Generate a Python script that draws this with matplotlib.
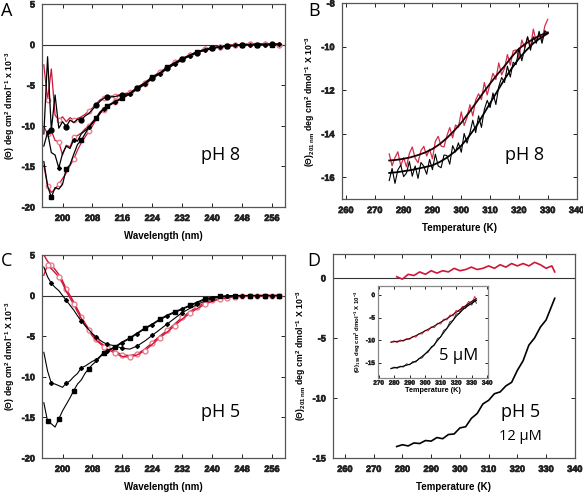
import numpy as np
import matplotlib
matplotlib.use("Agg")
import matplotlib.pyplot as plt
import matplotlib.patheffects as pe

plt.rcParams['font.family'] = ['Liberation Sans', 'DejaVu Sans']
plt.rcParams['font.weight'] = 'bold'
plt.rcParams['axes.labelweight'] = 'bold'
plt.rcParams['axes.unicode_minus'] = False
plt.rcParams['mathtext.fontset'] = 'custom'
plt.rcParams['mathtext.rm'] = 'Liberation Sans:bold'
plt.rcParams['mathtext.it'] = 'Liberation Sans:bold'
plt.rcParams['mathtext.bf'] = 'Liberation Sans:bold'
plt.rcParams['mathtext.default'] = 'bf'

RED = '#cf1538'
PINK = '#e8808f'

# ---- espectros (A y C): longitud de onda en nm
wl = [195, 196, 197, 198, 199, 200, 201, 202, 203, 204, 205, 206, 207, 208, 209, 210, 211, 212,
      214, 216, 218, 220, 222, 224, 226, 228, 230, 232, 234, 236, 238, 240, 242, 244, 246, 248,
      250, 252, 254, 256, 258]

# pH 8
a_black_circ = [-11.0, -1.5, -10.5, -6.2, -10.3, -9.5, -10.1, -9.3, -9.6, -9.2, -9.3, -8.8, -8.5, -8.0,
                -7.5, -7.0, -6.6, -6.5, -6.4, -6.2, -6.0, -5.4, -4.8, -4.1, -3.5, -2.9, -2.3, -1.8,
                -1.3, -1.0, -0.7, -0.45, -0.3, -0.2, -0.1, -0.05, 0.0, 0.0, 0.05, 0.05, 0.05]
a_red_circ = [-2.5, -6.8, -3.0, -8.7, -9.3, -8.9, -9.5, -9.0, -9.3, -9.1, -8.9, -8.6, -8.2, -7.8,
              -7.3, -6.8, -6.6, -6.4, -6.3, -6.1, -5.9, -5.3, -4.7, -4.0, -3.4, -2.8, -2.2, -1.7,
              -1.3, -0.9, -0.6, -0.4, -0.25, -0.15, -0.05, 0.0, 0.05, 0.1, 0.05, 0.05, 0.0]
a_black_dia = [-12.5, -10.8, -13.3, -13.6, -15.2, -13.4, -12.5, -12.8, -11.7, -11.9, -11.0, -10.6,
               -10.2, -9.6, -9.1, -8.5, -7.9, -7.6, -7.1, -6.6, -6.1, -5.5, -4.9, -4.2, -3.6, -3.0,
               -2.4, -1.9, -1.4, -1.0, -0.7, -0.5, -0.3, -0.2, -0.1, -0.05, 0.0, 0.0, 0.0, 0.05, 0.05]
a_red_mid = [-10.1, -11.0, -10.6, -11.8, -12.0, -13.6, -12.4, -12.6, -11.4, -11.2, -10.9, -10.4,
             -10.0, -9.5, -9.0, -8.4, -7.9, -7.5, -7.0, -6.5, -6.0, -5.4, -4.8, -4.1, -3.5, -2.9,
             -2.3, -1.8, -1.3, -0.9, -0.6, -0.4, -0.25, -0.1, -0.05, 0.0, 0.05, 0.05, 0.05, 0.0, 0.0]
a_black_sq = [-14.4, -17.4, -18.8, -17.6, -17.8, -17.2, -15.3, -14.8, -13.5, -12.3, -11.8, -11.0,
              -10.2, -9.7, -9.0, -8.3, -7.9, -7.6, -7.0, -6.6, -6.0, -5.3, -4.7, -4.0, -3.5, -2.8,
              -2.2, -1.8, -1.3, -0.9, -0.6, -0.4, -0.3, -0.15, -0.1, -0.05, 0.0, 0.0, 0.0, 0.0, 0.0]
a_red_low = [-14.9, -17.4, -18.2, -17.8, -17.2, -16.5, -15.8, -14.9, -14.1, -13.0, -12.1, -11.4,
             -10.7, -10.0, -9.2, -8.5, -8.0, -7.6, -7.1, -6.6, -6.0, -5.3, -4.7, -4.0, -3.4, -2.8,
             -2.2, -1.7, -1.3, -0.9, -0.6, -0.4, -0.25, -0.1, -0.05, 0.0, 0.05, 0.05, 0.05, 0.0, 0.0]

# pH 5
c_black_sq = [-13.2, -15.5, -15.8, -16.2, -15.2, -14.2, -13.4, -12.6, -11.7, -10.9, -10.4, -9.6,
              -9.0, -8.5, -8.1, -7.6, -7.1, -6.8, -6.3, -5.7, -5.2, -4.6, -4.0, -3.5, -2.9, -2.4,
              -2.0, -1.6, -1.2, -0.8, -0.4, -0.2, -0.1, -0.05, 0.0, 0.0, 0.0, 0.0, 0.0, 0.0, 0.0]
c_black_low = [-7.0, -9.3, -10.8, -10.9, -11.1, -11.3, -10.8, -10.5, -10.0, -9.6, -8.9, -8.7,
               -8.4, -8.1, -7.9, -7.5, -7.0, -6.8, -6.4, -5.8, -5.3, -4.7, -4.1, -3.6, -3.0, -2.5,
               -2.1, -1.7, -1.3, -0.9, -0.5, -0.3, -0.15, -0.05, 0.0, 0.0, 0.0, 0.0, 0.0, 0.0, 0.0]
c_black_up = [3.5, 2.3, 1.5, 1.0, 0.6, 0.0, -0.6, -1.2, -1.8, -2.5, -3.1, -3.7, -4.2, -4.7, -5.1,
              -5.5, -5.8, -6.0, -6.2, -6.5, -6.6, -6.2, -5.6, -4.9, -4.2, -3.5, -2.8, -2.1, -1.6,
              -1.1, -0.7, -0.4, -0.2, -0.1, -0.05, 0.0, 0.0, 0.0, 0.0, 0.0, 0.0]
c_red_1 = [5.0, 4.2, 3.8, 3.2, 2.6, 1.8, 0.8, 0.0, -0.8, -1.7, -2.6, -3.4, -4.1, -4.8, -5.3, -5.8,
           -6.1, -6.4, -6.9, -7.3, -7.4, -7.2, -6.6, -5.8, -5.0, -4.3, -3.5, -2.7, -2.0, -1.4,
           -0.9, -0.6, -0.4, -0.25, -0.15, -0.1, -0.05, 0.0, 0.0, 0.0, 0.0]
c_red_2 = [2.5, 3.8, 3.3, 2.8, 2.3, 1.5, 0.5, -0.3, -1.1, -2.0, -2.8, -3.6, -4.3, -5.0, -5.5, -5.9,
           -6.3, -6.6, -7.1, -7.5, -7.6, -7.3, -6.8, -6.0, -5.2, -4.5, -3.7, -2.9, -2.2, -1.6,
           -1.1, -0.7, -0.45, -0.3, -0.15, -0.1, -0.05, 0.0, 0.0, 0.0, 0.0]

# ---- B: desnaturalizacion termica pH 8 (201 nm)
tb = list(range(275, 331))
b_red = [-14.93, -15.47, -15.1, -14.83, -15.47, -15.1, -15.52, -14.9, -14.61, -15.12, -15.33,
         -14.78, -14.58, -15.02, -14.71, -15.15, -14.35, -14.12, -14.57, -14.61, -14.1, -13.72,
         -14.19, -13.6, -13.7, -13.0, -13.62, -13.25, -12.67, -13.18, -12.45, -12.17, -12.43,
         -11.65, -12.22, -11.7, -11.23, -11.51, -10.75, -11.3, -11.0, -10.37, -10.85, -10.2,
         -10.15, -10.5, -9.7, -10.05, -9.56, -10.03, -9.2, -9.78, -9.41, -9.7, -9.05, -8.75]
b_black = [-16.15, -15.59, -16.28, -15.66, -15.44, -15.97, -15.8, -15.28, -15.95, -15.48, -16.05,
           -15.32, -15.49, -15.86, -15.18, -15.65, -14.94, -15.48, -15.56, -14.98, -15.0, -15.4,
           -14.55, -14.84, -14.42, -14.85, -13.99, -14.43, -13.96, -13.38, -13.95, -13.18, -13.71,
           -12.89, -12.47, -12.8, -12.13, -12.66, -11.84, -11.42, -11.65, -10.9, -11.4, -10.72,
           -10.83, -10.1, -10.65, -10.1, -9.55, -10.17, -9.55, -9.85, -9.3, -9.85, -9.27, -9.4]
tb_fit = [275, 277.5, 280, 282.5, 285, 287.5, 290, 292.5, 295, 297.5, 300, 302.5, 305, 307.5, 310,
          312.5, 315, 317.5, 320, 322.5, 325, 327.5, 330]
b_red_fit = [-15.23, -15.2, -15.15, -15.08, -14.98, -14.86, -14.7, -14.48, -14.2, -13.87, -13.5,
             -13.06, -12.6, -12.14, -11.7, -11.28, -10.9, -10.47, -10.1, -9.85, -9.65, -9.48, -9.35]
b_black_fit = [-15.8, -15.77, -15.72, -15.67, -15.6, -15.53, -15.45, -15.3, -15.1, -14.85, -14.55,
               -14.15, -13.7, -13.15, -12.6, -12.05, -11.5, -11.0, -10.55, -10.18, -9.85, -9.6, -9.4]

# ---- D: pH 5, 12 uM
td = [278, 280, 282, 284, 286, 288, 290, 292, 294, 296, 298, 300, 302, 304, 306, 308, 310, 312,
      314, 316, 318, 320, 322, 324, 326, 328, 330, 332, 333]
d_red = [0.1, -0.1, 0.3, 0.2, 0.5, 0.3, 0.6, 0.4, 0.6, 0.5, 0.8, 0.6, 0.7, 0.9, 0.7, 0.8, 1.0, 0.8,
         1.1, 0.9, 1.2, 1.0, 1.2, 1.0, 1.3, 1.1, 0.8, 1.0, 0.5]
d_black = [-14.05, -13.9, -14.0, -13.75, -13.8, -13.55, -13.6, -13.3, -13.4, -13.05, -13.0, -12.5,
           -12.4, -11.7, -11.3, -10.5, -10.2, -9.65, -9.5, -9.0, -8.7, -7.7, -6.9, -5.6, -5.0,
           -4.1, -3.5, -2.3, -1.7]

# inset: 5 uM, 198 nm
d_in_red = [-10.4, -10.1, -10.5, -9.9, -10.2, -9.6, -9.8, -9.1, -9.3, -8.5, -8.6, -7.8, -7.9, -7.0,
            -7.2, -6.2, -6.4, -5.3, -5.5, -4.4, -4.6, -3.4, -3.7, -2.5, -2.6, -1.4, -1.8, -0.3, -1.2]
d_in_black = [-16.3, -15.9, -16.2, -15.7, -15.9, -15.2, -15.4, -14.7, -14.8, -14.0, -13.9, -13.0,
              -12.6, -11.4, -11.1, -9.6, -9.3, -7.8, -7.4, -5.9, -5.6, -4.2, -4.1, -3.0, -2.9, -1.9,
              -2.2, -1.0, -1.8]
td_fit = [278, 285, 290, 295, 300, 305, 310, 315, 320, 325, 330, 333]
d_in_red_fit = [-10.4, -10.1, -9.6, -8.8, -7.9, -7.0, -6.0, -5.0, -3.8, -2.6, -1.4, -0.8]
d_in_black_fit = [-16.2, -15.8, -15.3, -14.4, -13.0, -11.3, -9.2, -6.9, -4.7, -3.0, -1.8, -1.2]

# ticks
wl_ticks = [200, 208, 216, 224, 232, 240, 248, 256]
t_ticks = [260, 270, 280, 290, 300, 310, 320, 330, 340]
ti_ticks = [270, 280, 290, 300, 310, 320, 330, 340]
ac_yticks = [-20, -15, -10, -5, 0, 5]
b_yticks = [-16, -14, -12, -10, -8]
d_yticks = [-15, -10, -5, 0]
di_yticks = [-15, -10, -5, 0]

mk = [2, 6, 10, 14, 17, 19, 21, 23, 25, 27, 29, 31, 33, 35, 37, 39]
mk2 = [1, 4, 8, 12, 16, 18, 20, 22, 24, 26, 28, 30, 32, 34, 36, 38, 40]

fig = plt.figure(figsize=(5.83, 4.94), dpi=100)


def estilo(ax, xt, yt, size=6.6, pad=5, length=3, grosor=0.5):
    ef = [pe.withStroke(linewidth=grosor, foreground='#222')]
    kw = dict(fontsize=size, fontweight='bold', family='Liberation Sans', path_effects=ef)
    ax.set_xticks(xt, [str(v) for v in xt], **kw)
    ax.set_yticks(yt, [str(v) for v in yt], **kw)
    ax.tick_params(direction='in', length=length, width=0.7, top=True, right=True,
                   pad=pad, colors='#222')
    for s in ax.spines.values():
        s.set_color('#555')
        s.set_linewidth(0.9)


def etiquetas(ax, xl, yl, xs=7, ys=6.3, xpad=6, ypad=3):
    ax.set_xlabel(xl, fontsize=xs, labelpad=xpad, fontweight='bold', family='Liberation Sans')
    ax.set_ylabel(yl, fontsize=ys, labelpad=ypad, fontweight='bold', family='Liberation Sans')


# A
axA = fig.add_axes([0.072, 0.581, 0.417, 0.411])
axA.axhline(0, color='#333', lw=0.8)
axA.plot(wl, a_red_circ, color=RED, lw=0.9, marker='o', ms=3.2, mfc='white', mec=PINK, markevery=mk2)
axA.plot(wl, a_red_mid, color=RED, lw=0.9, marker='o', ms=3.2, mfc='white', mec=PINK, markevery=mk2)
axA.plot(wl, a_red_low, color=RED, lw=0.9, marker='o', ms=3.2, mfc='white', mec=PINK, markevery=mk2)
axA.plot(wl, a_black_circ, color='k', lw=0.9, marker='o', ms=3.5, markevery=mk)
axA.plot(wl, a_black_dia, color='k', lw=0.9, marker='D', ms=2, markevery=mk2)
axA.plot(wl, a_black_sq, color='k', lw=0.9, marker='s', ms=3.5, markevery=mk)
axA.set_xlim(194.5, 259.5)
axA.set_ylim(-20, 5)
estilo(axA, wl_ticks, ac_yticks)
etiquetas(axA, 'Wavelength (nm)', '(Θ) deg cm$^2$ dmol$^{-1}$ x 10$^{-3}$')
axA.text(237, -14.2, 'pH 8', fontsize=13, fontweight='normal', family='Open Sans')

# B
axB = fig.add_axes([0.586, 0.597, 0.403, 0.397])
axB.plot(tb, b_red, color=RED, lw=0.9, alpha=0.9)
axB.plot(tb, b_black, color='k', lw=0.8)
axB.plot(tb_fit, b_red_fit, color='#200000', lw=1.3)
axB.plot(tb_fit, b_black_fit, color='k', lw=1.3)
axB.set_xlim(258.5, 340)
axB.set_ylim(-17, -8)
estilo(axB, t_ticks, b_yticks)
etiquetas(axB, 'Temperature (K)', '(Θ)$_{201\\ nm}$ deg cm$^2$ dmol$^{-1}$ X 10$^{-3}$')
axB.text(315, -15.2, 'pH 8', fontsize=13, fontweight='normal', family='Open Sans')

# C
axC = fig.add_axes([0.072, 0.073, 0.417, 0.411])
axC.axhline(0, color='#333', lw=0.8)
axC.plot(wl, c_red_1, color=RED, lw=1.0, marker='o', ms=3.5, mfc='white', mec=PINK, markevery=mk)
axC.plot(wl, c_red_2, color=RED, lw=1.0, marker='o', ms=3.5, mfc='white', mec=PINK, markevery=mk2)
axC.plot(wl, c_black_up, color='k', lw=0.8, marker='D', ms=2, markevery=mk)
axC.plot(wl, c_black_low, color='k', lw=0.8, marker='D', ms=2, markevery=mk)
axC.plot(wl, c_black_sq, color='k', lw=0.8, marker='s', ms=3.5, markevery=mk2)
axC.set_xlim(194.5, 259.5)
axC.set_ylim(-20, 5)
estilo(axC, wl_ticks, ac_yticks)
etiquetas(axC, 'Wavelength (nm)', '(Θ) deg cm$^2$ dmol$^{-1}$ X 10$^{-3}$')
axC.text(237, -15, 'pH 5', fontsize=13, fontweight='normal', family='Open Sans')

# D
axD = fig.add_axes([0.571, 0.073, 0.415, 0.413])
axD.axhline(0, color='#333', lw=0.8)
axD.plot(td, d_red, color=RED, lw=1.2)
axD.plot(td, d_black, color='k', lw=1.2)
axD.set_xlim(255.8, 340)
axD.set_ylim(-15, 2)
estilo(axD, t_ticks, d_yticks)
etiquetas(axD, 'Temperature (K)', '(Θ)$_{201\\ nm}$ deg cm$^2$ dmol$^{-1}$ X 10$^{-3}$')
axD.text(321, -11.6, 'pH 5', fontsize=13, fontweight='normal', family='Open Sans', ha='center')
axD.text(321, -13.5, '12 µM', fontsize=10.5, fontweight='normal', family='Open Sans', ha='center')

axI = fig.add_axes([0.648, 0.235, 0.189, 0.186])
axI.plot(td, d_in_red, color=RED, lw=0.7, alpha=0.9)
axI.plot(td, d_in_black, color='#333', lw=0.7)
axI.plot(td_fit, d_in_red_fit, color='#400000', lw=0.8)
axI.plot(td_fit, d_in_black_fit, color='k', lw=0.8)
axI.set_xlim(269.5, 340.5)
axI.set_ylim(-18.3, 2)
estilo(axI, ti_ticks, di_yticks, size=4.6, pad=2, length=2, grosor=0.3)
etiquetas(axI, 'Temperature (K)', '(Θ)$_{198}$ deg cm$^2$ dmol$^{-1}$ X 10$^{-3}$', xs=5.2, ys=4.3, xpad=1, ypad=2)
axI.text(321.5, -14.4, '5 µM', fontsize=12, fontweight='normal', family='Open Sans', ha='center')
for s in axI.spines.values():
    s.set_color('#888')

# letras de panel
for x, y, t in [(0.001, 0.995, 'A'), (0.528, 0.995, 'B'), (0.001, 0.49, 'C'), (0.527, 0.49, 'D')]:
    fig.text(x, y, t, fontsize=13, fontweight='normal', family='Open Sans', va='top')

fig.savefig('out.png', dpi=100)
